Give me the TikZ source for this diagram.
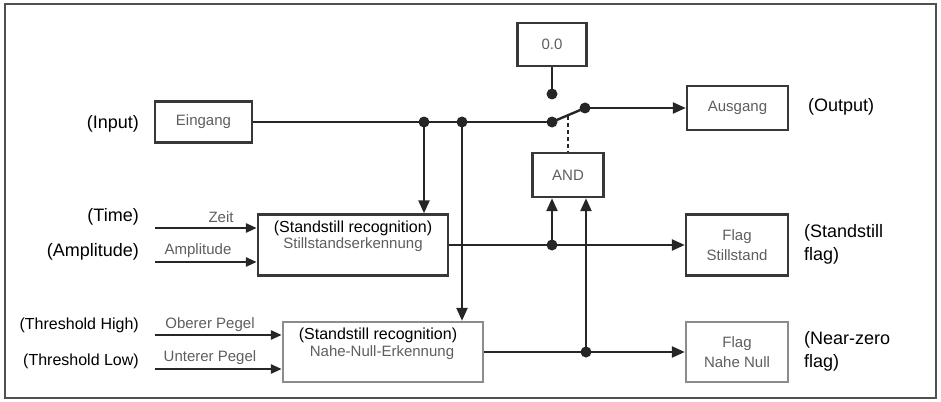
\documentclass[tikz,border=0pt]{standalone}
\usepackage{fontspec}
\setmainfont{Liberation Sans}
\usetikzlibrary{arrows.meta}
\definecolor{linec}{HTML}{262626}
\definecolor{boxc}{HTML}{383838}
\definecolor{lboxc}{HTML}{8C8C8C}
\definecolor{txtg}{HTML}{5E5E5E}
\definecolor{framec}{HTML}{505050}
\begin{document}
\begin{tikzpicture}[x=1pt,y=-1pt,
  box/.style={draw=boxc, line width=2.4pt, fill=white, inner sep=0pt, text=txtg, font=\fontsize{15}{20}\selectfont, align=center},
  lbox/.style={box, draw=lboxc},
  wire/.style={draw=linec, line width=2.4pt},
  arr/.style={wire, -{Triangle[length=13pt,width=11pt]}},
  arrin/.style={draw=linec, line width=2.6pt, -{Triangle[length=11pt,width=9pt]}},
  dot/.style={circle, fill=linec, inner sep=0pt, minimum size=11pt},
  ann/.style={font=\fontsize{18}{23}\selectfont, text=black, inner sep=0pt},
  sann/.style={font=\fontsize{16}{20}\selectfont, text=black, inner sep=0pt},
  glab/.style={text=txtg, font=\fontsize{15}{18}\selectfont, inner sep=0pt}
]
\useasboundingbox (0,0) rectangle (941,401);
\draw[framec, line width=1.5pt] (5,4) rectangle (936,398);

% boxes
\node[box, minimum width=97pt, minimum height=41pt] (ein) at (203.5,122) {Eingang};
\node[box, minimum width=69pt, minimum height=43pt] (zero) at (552,44.5) {0.0};
\node[box, minimum width=101pt, minimum height=44pt] (aus) at (737.5,108) {Ausgang};
\node[box, minimum width=71pt, minimum height=44pt] (and) at (568,175) {AND};
\node[box, minimum width=190pt, minimum height=61pt] (still) at (353,245) {};
\node[lbox, minimum width=200pt, minimum height=60pt] (nahe) at (383,352) {};
\node[box, minimum width=102pt, minimum height=61pt] (fst) at (737,245) {Flag\\Stillstand};
\node[lbox, minimum width=102pt, minimum height=60pt] (fnn) at (737,352) {Flag\\Nahe Null};

% texts inside detection boxes
\node[sann] (st1) at (353,228) {(Standstill recognition)};
\node[glab] (st2) at (353,245) {Stillstandserkennung};
\node[sann] (nn1) at (378,335) {(Standstill recognition)};
\node[glab] (nn2) at (382,353) {Nahe-Null-Erkennung};

% dots
\node[dot] (j1) at (424,122) {};
\node[dot] (j2) at (462,122) {};
\node[dot] (swL) at (552,122) {};
\node[dot] (swR) at (585,108) {};
\node[dot] (zdot) at (552,94) {};
\node[dot] (j3) at (552,245) {};
\node[dot] (j4) at (586,352) {};
\coordinate (swm) at (568,115.5);

% connectors
\draw[wire] (ein.east) -- (swL.center);
\draw[wire] (swL.center) -- (swR.center);
\draw[arr] (swR.center) -- (aus.west);
\draw[wire] (zero.south) -- (zdot.center);
\draw[draw=linec, line width=1.6pt, dash pattern=on 4pt off 3pt] (swm) -- (and.north);
\draw[arr] (j1.center) -- (j1 |- still.north);
\draw[arr] (j2.center) -- (j2 |- nahe.north);
\draw[arr] (still.east) -- (fst.west);
\draw[arr] (nahe.east) -- (fnn.west);
\draw[arr] (j3.center) -- (j3 |- and.south);
\draw[arr] (j4.center) -- (j4 |- and.south);

% input arrows
\coordinate (zeitS) at (155,228);
\coordinate (ampS) at (155,262);
\coordinate (obS) at (155,335);
\coordinate (unS) at (155,369);
\draw[arrin] (zeitS) -- (zeitS -| still.west);
\draw[arrin] (ampS) -- (ampS -| still.west);
\draw[arrin] (obS) -- (obS -| nahe.west);
\draw[arrin] (unS) -- (unS -| nahe.west);
\node[glab] (lzeit) at (221,217) {Zeit};
\node[glab] (lamp) at (198,251) {Amplitude};
\node[glab] (lob) at (210,325) {Oberer Pegel};
\node[glab] (lun) at (210,358) {Unterer Pegel};

% annotations
\node[ann, anchor=east] (ainput) at (139,124) {(Input)};
\node[ann, anchor=east] (atime) at (139,217) {(Time)};
\node[ann, anchor=east] (aamp) at (139,252) {(Amplitude)};
\node[sann, anchor=east] (ath) at (139,325) {(Threshold High)};
\node[sann, anchor=east] (atl) at (139,361) {(Threshold Low)};
\node[ann, anchor=west] (aout) at (808,107) {(Output)};
\node[ann, anchor=west, align=left] (asf) at (804,244) {(Standstill\\flag)};
\node[ann, anchor=west, align=left] (anz) at (804,351) {(Near-zero\\flag)};
\end{tikzpicture}
\end{document}
